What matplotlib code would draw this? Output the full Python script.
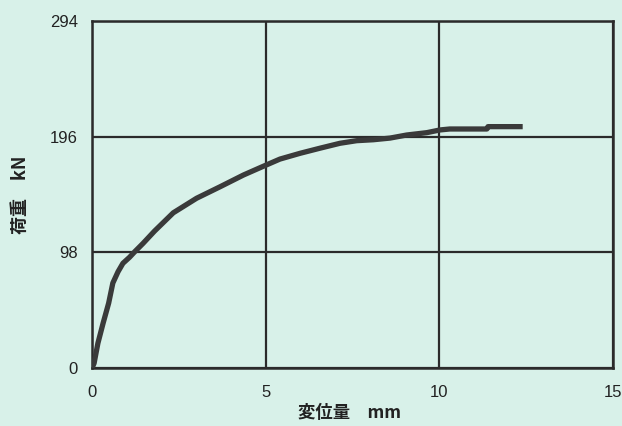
import matplotlib
matplotlib.use("Agg")
import matplotlib.pyplot as plt

plt.rcParams['font.family'] = ['Liberation Sans', 'Noto Sans CJK JP', 'DejaVu Sans']

# Displacement (mm) and load (kN)
disp = [0.0, 0.06, 0.17, 0.32, 0.48, 0.60, 0.75, 0.89, 1.08, 1.23, 1.47, 1.80,
        2.34, 3.01, 3.69, 4.36, 4.90, 5.41, 5.99, 6.56, 7.14, 7.62, 8.10,
        8.58, 9.06, 9.64, 10.02, 10.30, 11.37, 11.40, 12.40]
load = [0.0, 4.0, 21.0, 38.0, 55.0, 72.0, 81.6, 88.7, 93.8, 98.5, 105.6, 116.0,
        131.5, 143.8, 153.6, 163.5, 170.5, 177.0, 181.9, 186.2, 190.4, 192.6, 193.4,
        194.8, 197.4, 199.4, 201.7, 202.5, 202.5, 204.5, 204.5]

xticks = [0, 5, 10, 15]
yticks = [0, 98, 196, 294]
xlabel = "変位量　mm"
ylabel = "荷重　kN"

bg = '#d8f1e9'
ink = '#2b2b2b'

fig = plt.figure(figsize=(6.22, 4.26), dpi=100, facecolor=bg)
ax = fig.add_axes([92/622, 58/426, 521/622, 347/426], facecolor=bg)

ax.plot(disp, load, color='#3a3a3a', lw=3.8, solid_capstyle='butt',
        solid_joinstyle='round', zorder=3)

ax.set_xlim(0, 15)
ax.set_ylim(0, 294)
ax.set_xticks(xticks)
ax.set_yticks(yticks)
ax.set_xticklabels([str(v) for v in xticks])
ax.set_yticklabels([str(v) for v in yticks])
ax.grid(True, color=ink, lw=1.6, zorder=1)
for s in ax.spines.values():
    s.set_color(ink)
    s.set_linewidth(1.8)
ax.tick_params(length=0, labelsize=12, colors='#222222', pad=12)
ax.tick_params(axis='y', pad=10)

fig.text(350/622, 1 - 413/426, xlabel, ha='center', va='center', fontsize=12.5,
         family=['Noto Sans CJK JP', 'DejaVu Sans'], fontweight='bold', color='#222222')
fig.text(20/622, 1 - 195/426, ylabel, ha='center', va='center', fontsize=13, rotation=90,
         family=['Noto Sans CJK JP', 'DejaVu Sans'], fontweight='bold', color='#222222')

fig.savefig('out.png', dpi=100, facecolor=bg)
